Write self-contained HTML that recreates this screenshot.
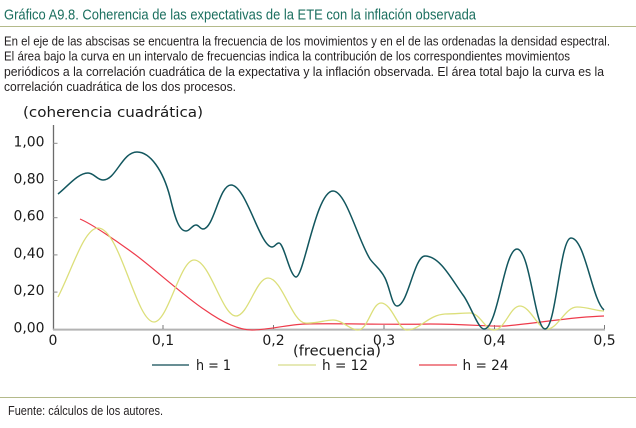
<!DOCTYPE html>
<html><head><meta charset="utf-8">
<style>
html,body{margin:0;padding:0;background:#fff;}
svg{display:block;}
.p{font-family:"Liberation Sans",sans-serif;font-size:12.5px;fill:#231f20;}
.a{font-family:"DejaVu Sans","Liberation Sans",sans-serif;font-size:14px;fill:#1a1a1a;}
</style></head>
<body>
<svg width="636" height="428" viewBox="0 0 636 428" xmlns="http://www.w3.org/2000/svg">
<rect width="636" height="428" fill="#fff"/>
<text x="4" y="19.5" font-family="Liberation Sans, sans-serif" font-size="15" fill="#1b6f5f" textLength="472" lengthAdjust="spacingAndGlyphs">Gráfico A9.8. Coherencia de las expectativas de la ETE con la inflación observada</text>
<line x1="0" y1="26.5" x2="636" y2="26.5" stroke="#b4ba8a" stroke-width="1"/>
<text class="p" x="4" y="45.3" textLength="606" lengthAdjust="spacingAndGlyphs">En el eje de las abscisas se encuentra la frecuencia de los movimientos y en el de las ordenadas la densidad espectral.</text>
<text class="p" x="4" y="60.6" textLength="566" lengthAdjust="spacingAndGlyphs">El área bajo la curva en un intervalo de frecuencias indica la contribución de los correspondientes movimientos</text>
<text class="p" x="4" y="75.8" textLength="600" lengthAdjust="spacingAndGlyphs">periódicos a la correlación cuadrática de la expectativa y la inflación observada. El área total bajo la curva es la</text>
<text class="p" x="4" y="90.8" textLength="232" lengthAdjust="spacingAndGlyphs">correlación cuadrática de los dos procesos.</text>

<text class="a" x="23" y="117" textLength="180" lengthAdjust="spacingAndGlyphs">(coherencia cuadrática)</text>

<!-- y tick labels -->
<g class="a" text-anchor="end">
<text x="44.5" y="146.3" textLength="31" lengthAdjust="spacingAndGlyphs">1,00</text>
<text x="44.5" y="183.5" textLength="31" lengthAdjust="spacingAndGlyphs">0,80</text>
<text x="44.5" y="220.7" textLength="31" lengthAdjust="spacingAndGlyphs">0,60</text>
<text x="44.5" y="257.9" textLength="31" lengthAdjust="spacingAndGlyphs">0,40</text>
<text x="44.5" y="295.1" textLength="31" lengthAdjust="spacingAndGlyphs">0,20</text>
<text x="44.5" y="332.3" textLength="31" lengthAdjust="spacingAndGlyphs">0,00</text>
</g>
<!-- x tick labels -->
<g class="a" text-anchor="middle">
<text x="53" y="345">0</text>
<text x="163" y="345">0,1</text>
<text x="273.5" y="345">0,2</text>
<text x="384" y="345">0,3</text>
<text x="494.5" y="345">0,4</text>
<text x="604.5" y="345">0,5</text>
</g>
<text class="a" x="293" y="355.5" textLength="88" lengthAdjust="spacingAndGlyphs">(frecuencia)</text>

<!-- axes -->
<line x1="53.5" y1="125" x2="53.5" y2="330" stroke="#6b6b6b" stroke-width="1.3"/>
<g stroke="#8a8a8a" stroke-width="1">
<line x1="53" y1="143.3" x2="57.5" y2="143.3"/>
<line x1="53" y1="180.5" x2="57.5" y2="180.5"/>
<line x1="53" y1="217.7" x2="57.5" y2="217.7"/>
<line x1="53" y1="254.9" x2="57.5" y2="254.9"/>
<line x1="53" y1="292.1" x2="57.5" y2="292.1"/>
</g>
<line x1="53" y1="329.6" x2="605" y2="329.6" stroke="#b3b3b3" stroke-width="2"/>
<g stroke="#7a7a7a" stroke-width="1">
<line x1="163" y1="325" x2="163" y2="329"/>
<line x1="273.5" y1="325" x2="273.5" y2="329"/>
<line x1="384" y1="325" x2="384" y2="329"/>
<line x1="494.5" y1="325" x2="494.5" y2="329"/>
<line x1="604.5" y1="325" x2="604.5" y2="329"/>
</g>

<!-- h = 24 (red) -->
<path d="M80,219 C92,224 118,242 133,253 C150,265 185,297 205,310 C222,322 238,330 252,330 C268,330 285,325 305,324 C340,323 380,325 430,324 C470,324 490,327 505,326 C540,323 570,317 604,316" fill="none" stroke="#ee3b4b" stroke-width="1.2"/>

<!-- h = 12 (yellow) -->
<path d="M58,297 C72,270 84,228 98,228 C120,228 136,322 154,322 C168,322 180,260 194,260 C210,260 222,316 236,316 C248,316 256,278 268,278 C282,278 292,322 305,323 C315,324 325,320 333,320 C342,320 350,330 358,330 C368,330 372,303 381,303 C392,303 398,330 407,330 C420,330 428,315 445,314 C455,314 462,313 470,313 C480,313 485,330 494,330 C505,330 510,306 520,306 C530,306 538,329 547,329 C558,329 565,307 577,307 C588,307 596,311 604,311" fill="none" stroke="#dcdf7a" stroke-width="1.3"/>

<!-- h = 1 (dark teal) -->
<path d="M58,194 C68,186 78,173 88,173 C94,173 97,180 103,180 C116,180 122,152 137,152 C150,152 163,170 170,197 C175,218 179,231 186,231 C190,231 192,225 196,225 C199,225 200,229 203,229 C214,229 219,185 231,185 C246,185 260,247 272,247 C275,247 276,243 279,243 C284,243 290,277 296,277 C304,277 316,191 333,191 C346,191 358,240 370,259 C375,266 380,268 385,278 C390,288 392,306 397,306 C408,306 414,256 425,256 C440,256 452,280 463,295 C470,304 478,329 484,329 C498,329 504,249 517,249 C530,249 535,329 545,329 C556,329 560,238 571,238 C585,238 592,300 604,310" fill="none" stroke="#12565e" stroke-width="1.5"/>

<!-- legend -->
<line x1="152" y1="365" x2="189" y2="365" stroke="#0e4a55" stroke-width="1.3"/>
<text class="a" x="196" y="370" textLength="35" lengthAdjust="spacingAndGlyphs">h = 1</text>
<line x1="278" y1="365" x2="316" y2="365" stroke="#d6dc8a" stroke-width="1.3"/>
<text class="a" x="322" y="370" textLength="46" lengthAdjust="spacingAndGlyphs">h = 12</text>
<line x1="419" y1="365" x2="457" y2="365" stroke="#e8414c" stroke-width="1.3"/>
<text class="a" x="462.5" y="370" textLength="46" lengthAdjust="spacingAndGlyphs">h = 24</text>

<line x1="0" y1="397.5" x2="636" y2="397.5" stroke="#b4ba8a" stroke-width="1"/>
<text class="p" x="8" y="415" textLength="155" lengthAdjust="spacingAndGlyphs">Fuente: cálculos de los autores.</text>
</svg>
</body></html>
